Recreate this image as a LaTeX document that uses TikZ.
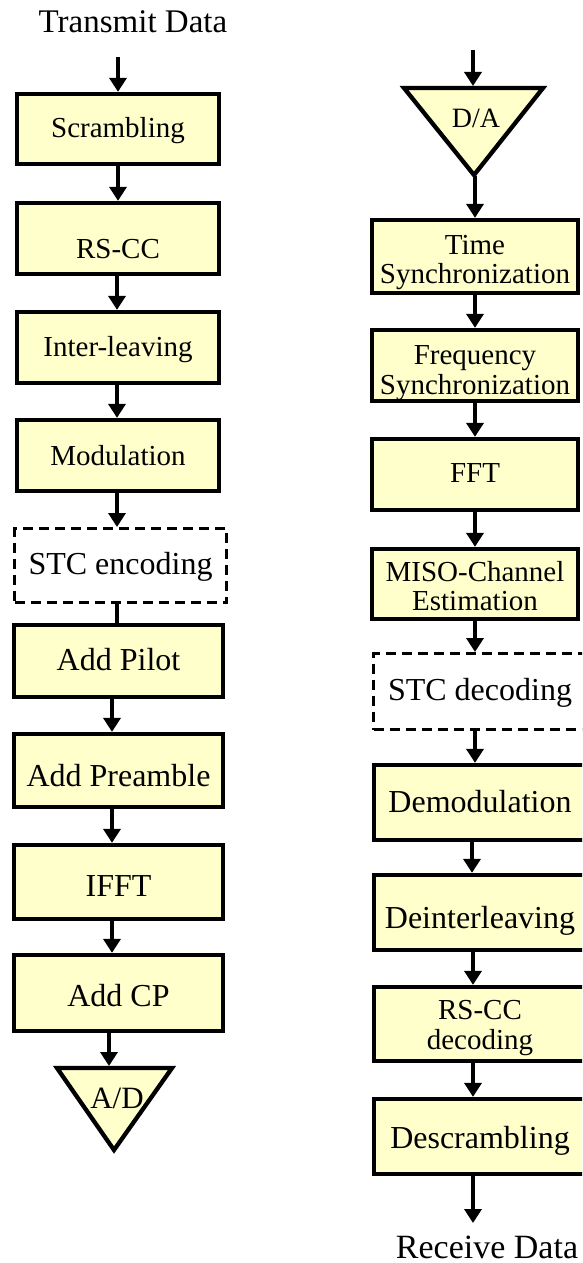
\documentclass[tikz,border=0pt]{standalone}
\usepackage{fontspec}
\setmainfont{Liberation Serif}
\usetikzlibrary{arrows.meta,calc}
\definecolor{boxfill}{RGB}{255,255,204}
\begin{document}
\begin{tikzpicture}[x=1pt,y=-1pt,
  box/.style={draw, line width=4.3pt, fill=boxfill, inner sep=0pt, align=center, text depth=0pt, font=\fontsize{29}{29.5}\selectfont},
  bigtext/.style={font=\fontsize{32}{32}\selectfont},
  dbox/.style={draw, line width=3pt, dash pattern=on 10pt off 6pt, fill=white, inner sep=0pt, align=center, text depth=0pt, font=\fontsize{32}{32}\selectfont},
  txt/.style={inner sep=0pt, align=center, font=\fontsize{29}{29.5}\selectfont},
  arr/.style={line width=4pt, -{Triangle[width=17pt,length=14pt]}},
  plainline/.style={line width=4pt},
  tri/.style={draw, line width=4.3pt, fill=boxfill, line join=miter},
  lbl/.style={inner sep=0pt}
]
\useasboundingbox (0,0) rectangle (582,1263);
\clip (0,0) rectangle (582,1263);

% ---------------- left column (transmitter) ----------------
\node[lbl, anchor=base, font=\fontsize{33}{33}\selectfont] (tx) at (133,32.5) {Transmit Data};
\coordinate (tin) at (118,57);

\node[box, text height=16.6pt, minimum width=202pt, minimum height=70pt] (scr) at (118,129) {Scrambling};
\node[box, text height=39.6pt, minimum width=202pt, minimum height=71pt] (rscc) at (118,238.5) {RS-CC};
\node[box, text height=18.4pt, minimum width=202pt, minimum height=71pt] (intl) at (118,347.5) {Inter-leaving};
\node[box, text height=19pt, minimum width=202pt, minimum height=71pt] (mod) at (118,455.5) {Modulation};
\node[dbox, text height=17pt, minimum width=212pt, minimum height=74pt] (stcenc) at (120.5,565.5) {STC encoding};
\node[box, bigtext, text height=19.4pt, minimum width=209pt, minimum height=72pt] (pilot) at (118.5,661) {Add Pilot};
\node[box, bigtext, text height=31pt, minimum width=209pt, minimum height=73pt] (pre) at (118.5,770.5) {Add Preamble};
\node[box, bigtext, text height=28pt, minimum width=209pt, minimum height=74pt] (ifft) at (118.5,882) {IFFT};
\node[box, bigtext, text height=26pt, minimum width=209pt, minimum height=76pt] (cp) at (118.5,993) {Add CP};

\draw[tri] (57,1068) -- (172,1068) -- (114,1150) -- cycle;
\coordinate (adtop) at (109,1066);
\node[lbl, font=\fontsize{31}{31}\selectfont] (ad) at (117,1098) {A/D};

\draw[arr] (tin) -- (tin |- scr.north);
\draw[arr] (scr.south) -- (scr.south |- rscc.north);
\draw[arr] ([xshift=-1pt]rscc.south) -- ([xshift=-1pt]intl.north);
\draw[arr] ([xshift=-1pt]intl.south) -- ([xshift=-1pt]mod.north);
\draw[arr] ([xshift=-1pt]mod.south) -- ([xshift=-1pt]mod.south |- stcenc.north);
\draw[plainline] ([xshift=-3.5pt]stcenc.south) -- ([xshift=-3.5pt]stcenc.south |- pilot.north);
\draw[arr] ([xshift=-6.5pt]pilot.south) -- ([xshift=-6.5pt]pre.north);
\draw[arr] ([xshift=-6.5pt]pre.south) -- ([xshift=-6.5pt]ifft.north);
\draw[arr] ([xshift=-6.5pt]ifft.south) -- ([xshift=-6.5pt]cp.north);
\draw[arr] ([xshift=-9.5pt]cp.south) -- (adtop);

% ---------------- right column (receiver) ----------------
\coordinate (rin) at (473,50);
\draw[tri] (404,88) -- (543,88) -- (474,175) -- cycle;
\coordinate (datop) at (473,86);
\coordinate (daapex) at (475,176);
\node[lbl, font=\fontsize{28}{28}\selectfont] (da) at (476,118) {D/A};

\node[box, minimum width=206pt, minimum height=73pt,
      label={[txt, yshift=-6pt]center:{Time\\Synchronization}}] (tsync) at (475,256.5) {};
\node[box, minimum width=206pt, minimum height=71pt,
      label={[txt, yshift=-7.5pt]center:{Frequency\\Synchronization}}] (fsync) at (475,365.5) {};
\node[box, text height=16.4pt, minimum width=206pt, minimum height=71pt] (fft) at (475,474.5) {FFT};
\node[box, minimum width=206pt, minimum height=70pt,
      label={[txt, yshift=-2pt]center:{MISO-Channel\\Estimation}}] (miso) at (475,584) {};
\node[dbox, text height=17pt, minimum width=213pt, minimum height=76pt] (stcdec) at (480,691.5) {STC decoding};
\node[box, bigtext, text height=20.4pt, minimum width=212pt, minimum height=75pt] (demod) at (480,802.5) {Demodulation};
\node[box, bigtext, text height=31.6pt, minimum width=212pt, minimum height=75pt] (deint) at (480,912.5) {Deinterleaving};
\node[box, minimum width=212pt, minimum height=74pt,
      label={[txt, yshift=-4pt]center:{RS-CC\\decoding}}] (rsdec) at (480,1024) {};
\node[box, bigtext, text height=23.6pt, minimum width=212pt, minimum height=75pt] (desc) at (480,1136.5) {Descrambling};

\coordinate (rout) at (473,1223);
\node[lbl, anchor=base, font=\fontsize{34}{34}\selectfont] (rx) at (487,1258) {Receive Data};

\draw[arr] (rin) -- (datop);
\draw[arr] (daapex) -- (daapex |- tsync.north);
\draw[arr] (tsync.south) -- (fsync.north);
\draw[arr] (fsync.south) -- (fft.north);
\draw[arr] (fft.south) -- (miso.north);
\draw[arr] (miso.south) -- (miso.south |- stcdec.north);
\draw[arr] ([xshift=-5pt]stcdec.south) -- ([xshift=-5pt]demod.north);
\draw[arr] ([xshift=-8pt]demod.south) -- ([xshift=-8pt]deint.north);
\draw[arr] ([xshift=-7pt]deint.south) -- ([xshift=-7pt]rsdec.north);
\draw[arr] ([xshift=-7pt]rsdec.south) -- ([xshift=-7pt]desc.north);
\draw[arr] ([xshift=-7pt]desc.south) -- (rout);
\end{tikzpicture}
\end{document}
